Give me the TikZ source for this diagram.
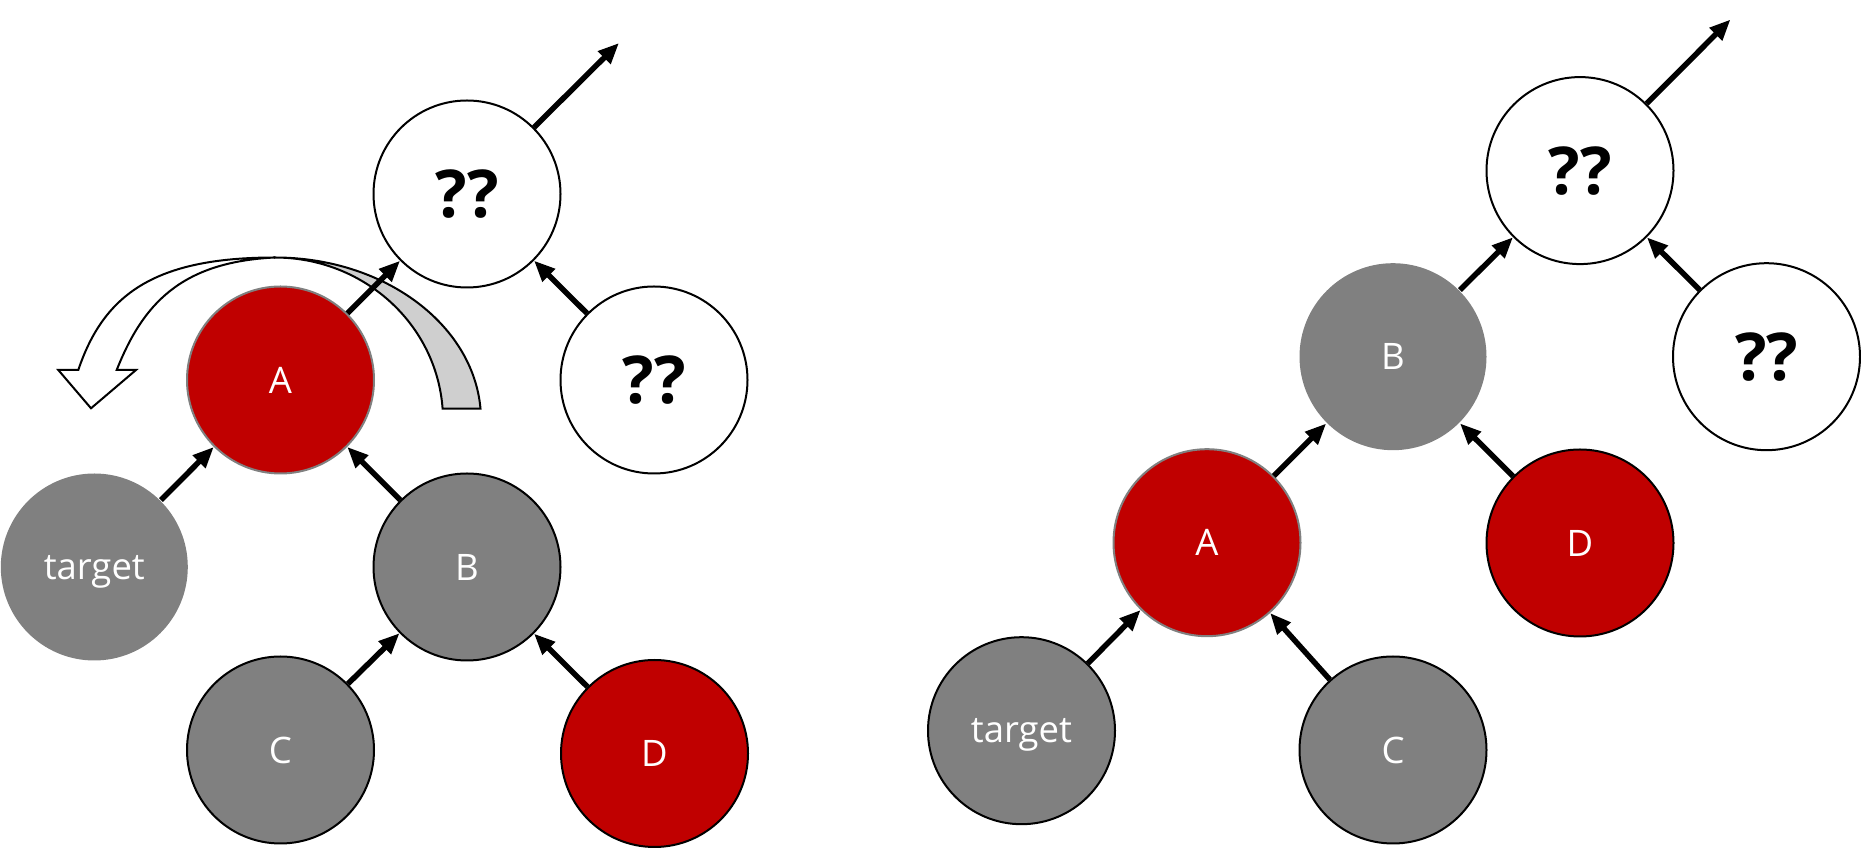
\documentclass[tikz,border=0pt]{standalone}
\usepackage{fontspec}
\setmainfont{Open Sans}
\usetikzlibrary{arrows.meta}
\definecolor{nred}{RGB}{192,0,0}
\definecolor{ngray}{RGB}{128,128,128}
\definecolor{bandgray}{RGB}{207,207,207}
\begin{document}
\begin{tikzpicture}[x=1pt,y=1pt,
  nd/.style={circle, minimum size=187pt, inner sep=0pt, line width=2pt,
    text depth=0pt, font=\fontsize{36.5}{42}\selectfont, text=white},
  qq/.style={nd, draw=black, fill=white, text=black,
    font=\fontsize{66}{72}\selectfont\bfseries},
  redb/.style={nd, fill=nred, draw=black},
  redg/.style={nd, fill=nred, draw=ngray},
  grayb/.style={nd, fill=ngray, draw=black},
  grayn/.style={nd, fill=ngray},
  link/.style={line width=5.5pt, -{Triangle[length=21pt,width=17pt]}},
  band/.style={line width=2pt, draw=black, line join=miter}]
\useasboundingbox (0,0) rectangle (1861,848);

% curved arrow (gray back part and white front part)
\draw[band, fill=bandgray] (275,590.5)
  arc[start angle=90, end angle=4, x radius=206, y radius=162.5]
  -- (442.6,439.3)
  arc[start angle=4, end angle=90, x radius=168, y radius=162.5] -- cycle;
\draw[band, fill=white] (275,590.5)
  .. controls (155,590.5) and (103.9,554) .. (78.3,478)
  -- (58.3,478) -- (91,439.7) -- (136,478) -- (116.7,478)
  .. controls (142.6,543.1) and (180,586) .. (275,590.5) -- cycle;

% left tree
\node[qq]    (Lq1) at (467,654)   {??};
\node[qq]    (Lq2) at (654,468)   {??};
\node[redg]  (LA)  at (280.5,468) {A};
\node[grayn] (Lt)  at (94.3,281)  {target};
\node[grayb] (LB)  at (467,281)   {B};
\node[grayb] (LC)  at (280.5,98)  {C};
\node[redb]  (LD)  at (654.5,94.5) {D};
\coordinate (Le) at (619,805);

% right tree
\node[qq]    (Rq1) at (1580,677.4)   {??};
\node[qq]    (Rq2) at (1766.5,491.3) {??};
\node[grayn] (RB)  at (1393,491.3)   {B};
\node[redg]  (RA)  at (1207,305.3)   {A};
\node[redb]  (RD)  at (1580,305)     {D};
\node[grayb] (Rt)  at (1021.5,117.3) {target};
\node[grayb] (RC)  at (1393,98)      {C};
\coordinate (Re) at (1730.5,828.5);

% connectors
\draw[link] (Lt) -- (LA);
\draw[link] (LB) -- (LA);
\draw[link] (LC) -- (LB);
\draw[link] (LD) -- (LB);
\draw[link] (LA) -- (Lq1);
\draw[link] (Lq2) -- (Lq1);
\draw[link] (Lq1) -- (Le);

\draw[link] (Rt) -- (RA);
\draw[link] (RC) -- (RA);
\draw[link] (RA) -- (RB);
\draw[link] (RD) -- (RB);
\draw[link] (RB) -- (Rq1);
\draw[link] (Rq2) -- (Rq1);
\draw[link] (Rq1) -- (Re);
\end{tikzpicture}
\end{document}
